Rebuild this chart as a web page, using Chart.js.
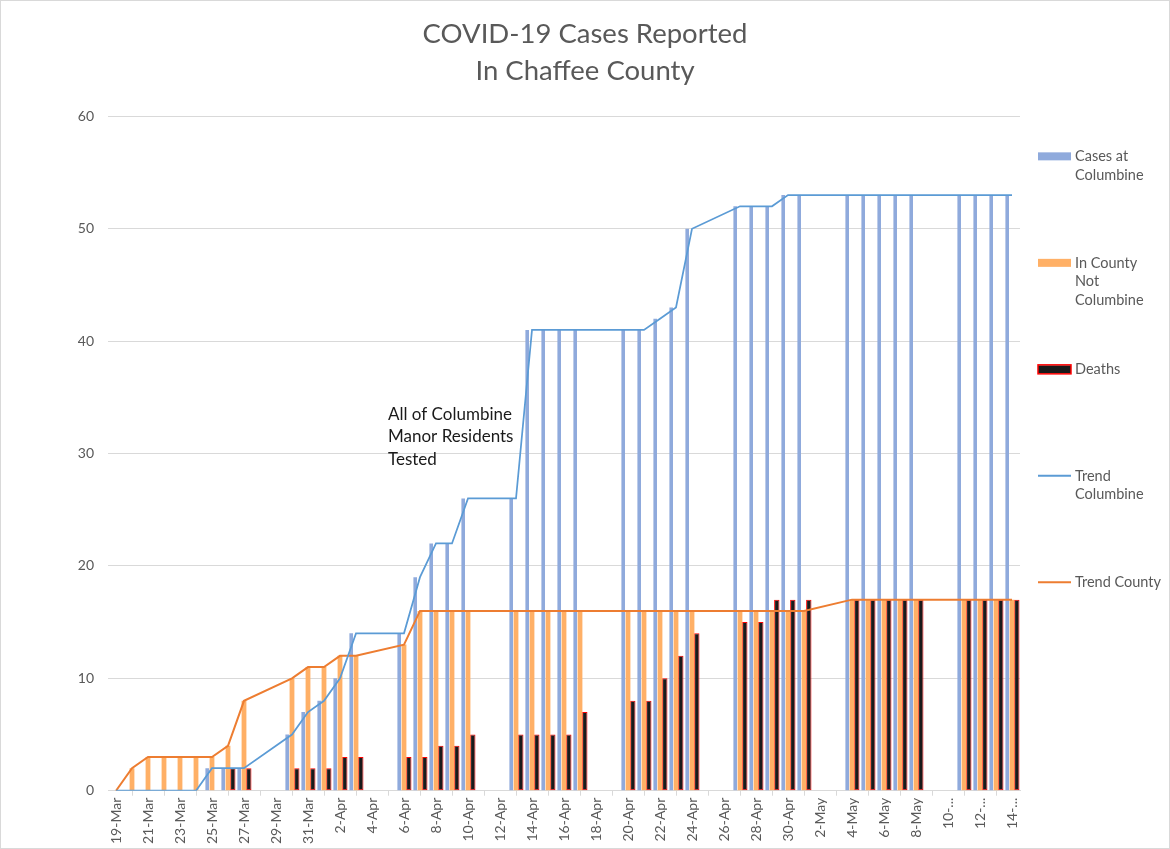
<!DOCTYPE html>
<html>
<head>
<meta charset="utf-8">
<title>COVID-19 Chaffee County</title>
<script src="https://cdn.jsdelivr.net/npm/chart.js@4"></script>
<style>
  html, body { margin: 0; padding: 0; background: #fff; }
  #marco { width: 1170px; height: 849px; box-sizing: border-box; border: 1px solid #d9d9d9; }
</style>
</head>
<body>
<div id="marco"><canvas id="graficaCovid"></canvas></div>
<script>
// Fechas (una categoría por día)
const fechas = [
    '19-Mar', '20-Mar', '21-Mar', '22-Mar', '23-Mar', '24-Mar', '25-Mar', '26-Mar', '27-Mar', '28-Mar',
    '29-Mar', '30-Mar', '31-Mar', '1-Apr', '2-Apr', '3-Apr', '4-Apr', '5-Apr', '6-Apr', '7-Apr',
    '8-Apr', '9-Apr', '10-Apr', '11-Apr', '12-Apr', '13-Apr', '14-Apr', '15-Apr', '16-Apr', '17-Apr',
    '18-Apr', '19-Apr', '20-Apr', '21-Apr', '22-Apr', '23-Apr', '24-Apr', '25-Apr', '26-Apr', '27-Apr',
    '28-Apr', '29-Apr', '30-Apr', '1-May', '2-May', '3-May', '4-May', '5-May', '6-May', '7-May',
    '8-May', '9-May', '10-May', '11-May', '12-May', '13-May', '14-May'
];

// Etiquetas visibles del eje X (cada dos días, como en la imagen)
const etiquetasEje = [
    '19-Mar', '21-Mar', '23-Mar', '25-Mar', '27-Mar', '29-Mar', '31-Mar', '2-Apr', '4-Apr', '6-Apr',
    '8-Apr', '10-Apr', '12-Apr', '14-Apr', '16-Apr', '18-Apr', '20-Apr', '22-Apr', '24-Apr', '26-Apr',
    '28-Apr', '30-Apr', '2-May', '4-May', '6-May', '8-May', '10-...', '12-...', '14-...'
];

// Casos en Columbine (null = sin reporte ese día)
const casosColumbine = [
    0, 0, 0, 0, 0, 0, 2, 2, 2, null,
    null, 5, 7, 8, 10, 14, null, null, 14, 19,
    22, 22, 26, null, null, 26, 41, 41, 41, 41,
    null, null, 41, 41, 42, 43, 50, null, null, 52,
    52, 52, 53, 53, null, null, 53, 53, 53, 53,
    53, null, null, 53, 53, 53, 53
];

// Casos en el condado fuera de Columbine
const casosCondado = [
    0, 2, 3, 3, 3, 3, 3, 4, 8, null,
    null, 10, 11, 11, 12, 12, null, null, 13, 16,
    16, 16, 16, null, null, 16, 16, 16, 16, 16,
    null, null, 16, 16, 16, 16, 16, null, null, 16,
    16, 16, 16, 16, null, null, 17, 17, 17, 17,
    17, null, null, 17, 17, 17, 17
];

// Muertes
const muertes = [
    null, null, null, null, null, null, null, 2, 2, null,
    null, 2, 2, 2, 3, 3, null, null, 3, 3,
    4, 4, 5, null, null, 5, 5, 5, 5, 7,
    null, null, 8, 8, 10, 12, 14, null, null, 15,
    15, 17, 17, 17, null, null, 17, 17, 17, 17,
    17, null, null, 17, 17, 17, 17
];

const notaTexto = ['All of Columbine', 'Manor Residents', 'Tested'];

const fuente = 'Lato, "Open Sans", sans-serif';
const gris = '#595959';

Chart.defaults.font.family = fuente;

// Nota de texto dentro del área de la gráfica
const notaPlugin = {
    id: 'nota',
    afterDatasetsDraw(chart) {
        const ctx = chart.ctx;
        const x = chart.scales.x.getPixelForValue(17);
        const y = chart.scales.y.getPixelForValue(33);
        ctx.save();
        ctx.font = '17px ' + fuente;
        ctx.fillStyle = '#1a1a1a';
        ctx.textAlign = 'left';
        ctx.textBaseline = 'alphabetic';
        notaTexto.forEach((linea, k) => ctx.fillText(linea, x, y + k * 22.5));
        ctx.restore();
    }
};

// Leyenda vertical a la derecha, al estilo de Excel
const leyendaPlugin = {
    id: 'leyendaExcel',
    afterDraw(chart) {
        const ctx = chart.ctx;
        const area = chart.chartArea;
        const x0 = area.right + 18;
        ctx.save();
        ctx.font = '14.5px ' + fuente;
        ctx.textAlign = 'left';
        ctx.textBaseline = 'alphabetic';
        chart.data.datasets.forEach((ds, i) => {
            const base = area.top + 45 + i * 106.5;
            const medio = base - 5;
            if (ds.type === 'line') {
                ctx.strokeStyle = ds.borderColor;
                ctx.lineWidth = 2;
                ctx.beginPath();
                ctx.moveTo(x0, medio);
                ctx.lineTo(x0 + 33, medio);
                ctx.stroke();
            } else {
                ctx.fillStyle = ds.backgroundColor;
                ctx.fillRect(x0, medio - 4, 33, 8);
                if (ds.borderWidth) {
                    ctx.strokeStyle = ds.borderColor;
                    ctx.lineWidth = 1.5;
                    ctx.strokeRect(x0, medio - 4.5, 33, 9);
                }
            }
            ctx.fillStyle = gris;
            ds.leyenda.forEach((linea, k) => ctx.fillText(linea, x0 + 37, base + k * 18.5));
        });
        ctx.restore();
    }
};

const ctx = document.getElementById('graficaCovid').getContext('2d');

const chart = new Chart(ctx, {
    type: 'bar',
    data: {
        labels: fechas,
        datasets: [
            {
                label: 'Cases at Columbine',
                leyenda: ['Cases at', 'Columbine'],
                data: casosColumbine,
                backgroundColor: '#8faadc',
                barPercentage: 0.75
            },
            {
                label: 'In County Not Columbine',
                leyenda: ['In County', 'Not', 'Columbine'],
                data: casosCondado,
                backgroundColor: '#ffb066',
                barPercentage: 1.0
            },
            {
                label: 'Deaths',
                leyenda: ['Deaths'],
                data: muertes,
                backgroundColor: '#1a1a1a',
                borderColor: '#ff0000',
                borderWidth: 1,
                borderSkipped: false,
                barPercentage: 1.12
            },
            {
                type: 'line',
                label: 'Trend Columbine',
                leyenda: ['Trend', 'Columbine'],
                data: casosColumbine,
                borderColor: '#5b9bd5',
                backgroundColor: '#5b9bd5',
                borderWidth: 1.75,
                pointRadius: 0,
                tension: 0,
                spanGaps: true,
                order: -1
            },
            {
                type: 'line',
                label: 'Trend County',
                leyenda: ['Trend County'],
                data: casosCondado,
                borderColor: '#ed7d31',
                backgroundColor: '#ed7d31',
                borderWidth: 2,
                pointRadius: 0,
                tension: 0,
                spanGaps: true,
                order: -1
            }
        ]
    },
    options: {
        responsive: true,
        maintainAspectRatio: false,
        animation: false,
        categoryPercentage: 0.9,
        layout: {
            padding: { left: 0, right: 0, top: 0, bottom: 2 }
        },
        plugins: {
            legend: { display: false },
            tooltip: { enabled: false },
            title: {
                display: true,
                text: ['COVID-19 Cases Reported', 'In Chaffee County'],
                color: gris,
                font: { size: 27.5, weight: 'normal', lineHeight: 1.37 },
                padding: { top: 14, bottom: 26 }
            }
        },
        scales: {
            x: {
                offset: true,
                grid: {
                    offset: true,
                    drawOnChartArea: false,
                    drawTicks: true,
                    tickLength: 5,
                    color: '#d9d9d9'
                },
                border: { color: '#d9d9d9' },
                ticks: {
                    autoSkip: false,
                    maxRotation: 90,
                    minRotation: 90,
                    padding: 2,
                    color: gris,
                    font: { size: 14 },
                    callback: function (valor, indice) {
                        return indice % 2 === 0 ? etiquetasEje[indice / 2] : null;
                    }
                }
            },
            y: {
                min: 0,
                max: 60,
                grid: { color: '#d9d9d9', drawTicks: false },
                border: { display: false },
                ticks: {
                    stepSize: 10,
                    padding: 14,
                    color: gris,
                    font: { size: 14 }
                },
                afterFit: function (escala) {
                    escala.width = 107;
                }
            },
            // eje vacío que reserva el espacio de la leyenda
            espacioLeyenda: {
                type: 'linear',
                axis: 'y',
                position: 'right',
                grid: { display: false },
                border: { display: false },
                ticks: { display: false },
                afterFit: function (escala) {
                    escala.width = 149;
                }
            }
        }
    },
    plugins: [notaPlugin, leyendaPlugin]
});
</script>
</body>
</html>
